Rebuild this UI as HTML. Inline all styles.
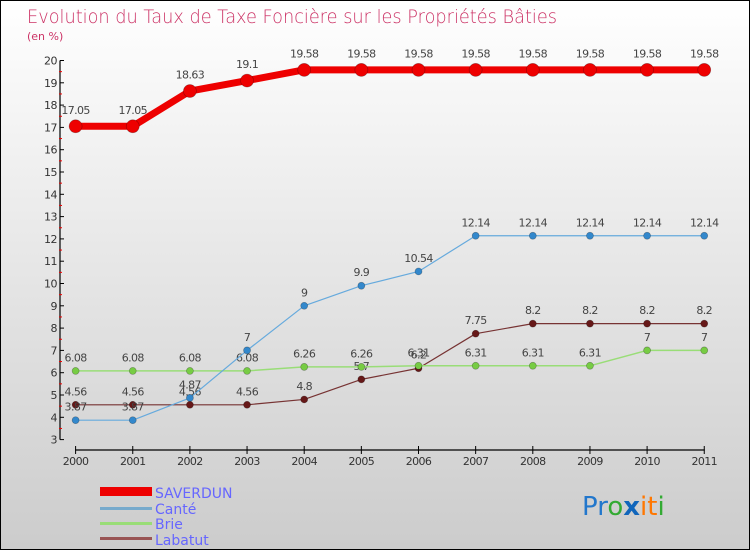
<!DOCTYPE html>
<html><head><meta charset="utf-8"><style>
body{margin:0;padding:0}
svg{display:block;font-family:"DejaVu Sans","Liberation Sans",sans-serif}
</style></head><body>
<svg id="chart" width="750" height="550" xmlns="http://www.w3.org/2000/svg">
<defs><linearGradient id="bg" x1="0" y1="0" x2="0" y2="1"><stop offset="0" stop-color="#ffffff"/><stop offset="1" stop-color="#cccccc"/></linearGradient></defs>
<rect x="0.5" y="0.5" width="749" height="549" fill="url(#bg)" stroke="#000" stroke-width="1"/>
<text x="27" y="23" font-size="19" fill="#cc3366" textLength="530" lengthAdjust="spacingAndGlyphs" font-weight="300">Evolution du Taux de Taxe Foncière sur les Propriétés Bâties</text>
<text x="27" y="40" font-size="11" fill="#cc3366">(en %)</text>
<g id="axes"></g>
<g id="series"></g>
<g>
<rect x="100" y="487" width="52" height="9" fill="#ee0000"/>
<text x="155" y="498" font-size="14" fill="#6666ff">SAVERDUN</text>
<rect x="100" y="507" width="52" height="3" fill="#77aacc"/>
<text x="155" y="514" font-size="14" fill="#6666ff">Canté</text>
<rect x="100" y="522" width="52" height="3" fill="#99dd77"/>
<text x="155" y="529" font-size="14" fill="#6666ff">Brie</text>
<rect x="100" y="537" width="52" height="3" fill="#995555"/>
<text x="155" y="545" font-size="14" fill="#6666ff">Labatut</text>
</g>
<text x="582" y="515" font-size="26" font-family="'DejaVu Sans',sans-serif"><tspan fill="#2277cc">Pr</tspan><tspan fill="#33aa33">o</tspan><tspan fill="#1166bb" font-weight="bold">x</tspan><tspan fill="#ff7700">it</tspan><tspan fill="#33aa33">i</tspan></text>
</svg>
<script>
const years=["2000","2001","2002","2003","2004","2005","2006","2007","2008","2009","2010","2011"];
const saverdun=[17.05,17.05,18.63,19.1,19.58,19.58,19.58,19.58,19.58,19.58,19.58,19.58];
const cante=[3.87,3.87,4.87,7,9,9.9,10.54,12.14,12.14,12.14,12.14,12.14];
const brie=[6.08,6.08,6.08,6.08,6.26,6.26,6.31,6.31,6.31,6.31,7,7];
const labatut=[4.56,4.56,4.56,4.56,4.8,5.7,6.2,7.75,8.2,8.2,8.2,8.2];
const yTicks=[3,4,5,6,7,8,9,10,11,12,13,14,15,16,17,18,19,20];
const NS="http://www.w3.org/2000/svg";
const X=i=>75.6+i*57.15;
const Y=v=>60.5+(20-v)*22.3;
function mk(t,a,p){const e=document.createElementNS(NS,t);for(const k in a)e.setAttribute(k,a[k]);p.appendChild(e);return e;}
const ax=document.getElementById('axes');
let l=mk('line',{x1:60,y1:Y(20),x2:60,y2:Y(3),stroke:'#000','stroke-width':1.2},ax);


yTicks.forEach(v=>{
 let t=mk('line',{x1:60,y1:Y(v),x2:64,y2:Y(v),stroke:'#000'},ax);
 
 
 if(v<20){let m=mk('line',{x1:59,y1:Y(v+0.5),x2:62,y2:Y(v+0.5),stroke:'#ee0000'},ax);
 
 }
 let tx=mk('text',{x:57,y:Y(v)+4,'font-size':11,fill:'#333','text-anchor':'end','letter-spacing':'-0.5'},ax);
 tx.textContent=v;
 
 
});
l=mk('line',{x1:X(0)-0.5,y1:450,x2:X(11)+0.5,y2:450,stroke:'#000','stroke-width':1.2},ax);


years.forEach((y,i)=>{
 let t=mk('line',{x1:X(i),y1:446,x2:X(i),y2:454,stroke:'#000'},ax);
 
 
 let tx=mk('text',{x:X(i),y:465,'font-size':11,fill:'#333','text-anchor':'middle','letter-spacing':'-0.6'},ax);
 tx.textContent=y;
 
 
});
const sg=document.getElementById('series');
function series(name,data,color,w,r,dot){
 const g=mk('g',{},sg);
 
 
 let p=mk('polyline',{points:data.map((v,i)=>X(i)+','+Y(v)).join(' '),fill:'none',stroke:color,'stroke-width':w,'stroke-linejoin':'round'},g);
 
 
 data.forEach((v,i)=>{
  let c=mk('circle',{cx:X(i),cy:Y(v),r:r,fill:dot,stroke:'rgba(0,0,0,0.3)','stroke-width':0.7},g);
  
  
  let t=mk('text',{x:X(i),y:Y(v)-(r+6),'font-size':11,fill:'#444','text-anchor':'middle','letter-spacing':'-0.6'},g);
  t.textContent=v;
  
  
 });
}
series('labatut',labatut,'#773333',1.2,3.5,'#661818');
series('brie',brie,'#99dd77',1.5,3.5,'#77cc44');
series('cante',cante,'#66aadd',1.2,3.5,'#3388cc');
series('saverdun',saverdun,'#ee0000',7,6.5,'#ee0000');
</script>
</body></html>
